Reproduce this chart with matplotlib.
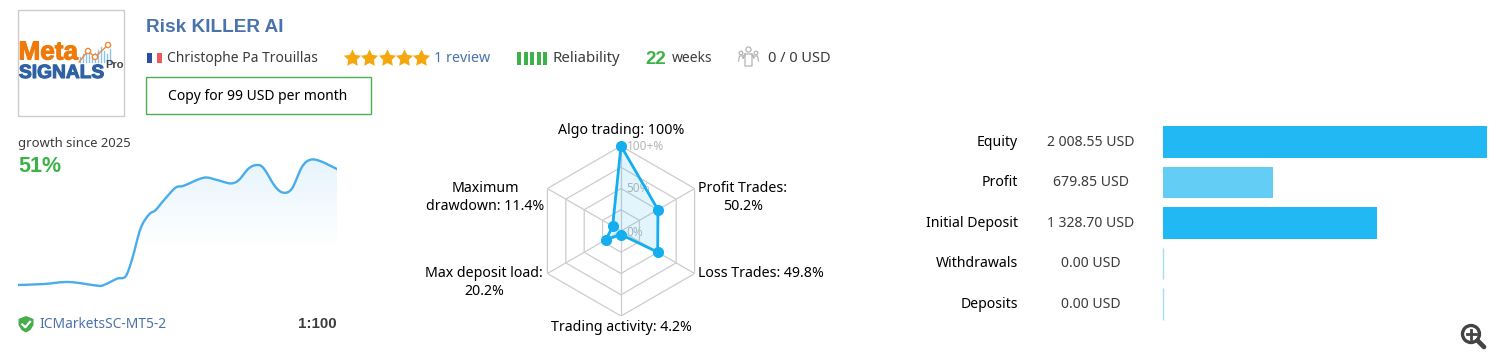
import matplotlib
matplotlib.use('agg')
import matplotlib.patheffects as pe
import matplotlib.pyplot as plt
import numpy as np
from matplotlib.patches import Circle, PathPatch, Polygon, Rectangle
from matplotlib.path import Path

plt.rcParams['font.family'] = ['Noto Sans', 'DejaVu Sans']

W, H = 1500, 362

# growth curve
growth_weeks = [0, 1.79, 3.51, 5.47, 5.92, 6.84, 7.42, 7.88, 8.45, 9.03, 9.48, 10.06, 10.86, 11.44,
                12.81, 13.73, 14.65, 15.23, 15.91, 16.49, 16.95, 17.75, 18.33, 18.9, 19.59, 20.16, 20.85, 22]
growth_pct = [0, 0.44, 1.32, -0.29, 0, 2.79, 3.82, 11.6, 24.8, 31.0, 32.9, 37.3, 42.8, 43.7,
              47.2, 46.2, 44.7, 46.2, 51.3, 52.8, 51.3, 43.2, 40.6, 42.5, 52.0, 55.1, 54.5, 51]

# radar
radar_names = ["Algo trading", "Profit Trades", "Loss Trades", "Trading activity", "Max deposit load", "Maximum drawdown"]
radar_values = [100, 50.2, 49.8, 4.2, 20.2, 11.4]
radar_rings = [25, 50, 75, 100]

# balance bars
bar_names = ["Equity", "Profit", "Initial Deposit", "Withdrawals", "Deposits"]
bar_values = [2008.55, 679.85, 1328.70, 0.00, 0.00]
bar_labels = ["2 008.55 USD", "679.85 USD", "1 328.70 USD", "0.00 USD", "0.00 USD"]
bar_colors = ["#22b8f3", "#63cdf6", "#22b8f3", "#22b8f3", "#22b8f3"]

BLUE = "#4a72ac"
GREEN = "#3db249"
DARK = "#3c3c3c"
GREY = "#b5b5b5"
BOLD = ["Liberation Sans", "DejaVu Sans"]


def axes_px(left, top, right, bottom, **kw):
    # axes placed with pixel coordinates, y going down
    return fig.add_axes([left / W, 1 - bottom / H, (right - left) / W, (bottom - top) / H], **kw)


def txt(x, y, s, size=10, color="black", ha="left", weight="normal", **kw):
    # 1.5 px down: va center sits a little high compared to the reference
    return bg.text(x, y + 1.5, s, fontsize=size, color=color, ha=ha, va="center", fontweight=weight, **kw)


fig = plt.figure(figsize=(W / 100, H / 100), dpi=100, facecolor="white")

# background layer in pixels, for header and icons
bg = fig.add_axes([0, 0, 1, 1])
bg.set_xlim(0, W)
bg.set_ylim(H, 0)
bg.axis("off")

# logo
bg.add_patch(Rectangle((18, 10), 106, 106, fc="white", ec="#cccccc", lw=1))
for bx, bh in zip(range(80, 112, 3), [5, 8, 11, 9, 6, 9, 12, 15, 11, 8, 13]):
    bg.plot([bx, bx], [62, 62 - bh], color="#8fc3ea", lw=1)
bg.plot([79, 88, 95, 108], [62, 51, 57, 45], color="#ee8a3c", lw=1)
for cx, cy in [(88, 51), (95, 57), (108, 45)]:
    bg.add_patch(Circle((cx, cy), 2.6, fc="white", ec="#ee8a3c", lw=1, zorder=3))
heavy_o = [pe.withStroke(linewidth=0.8, foreground="#ee7a0c")]
heavy_b = [pe.withStroke(linewidth=0.8, foreground="#2f62a3")]
txt(18.5, 51, "Meta", size=18.8, color="#ee7a0c", weight="bold", family=BOLD, path_effects=heavy_o)
txt(19, 72, "SIGNALS", size=13.8, color="#2f62a3", weight="bold", family=BOLD, path_effects=heavy_b)
txt(105, 63, "Pro", size=8, color="#444444", weight="bold", family=BOLD)

# header
txt(146, 26, "Risk KILLER AI", size=13.7, color=BLUE, weight="bold", family=BOLD)
bg.add_patch(Rectangle((146.5, 53), 5, 10, fc="#2a4f9e", lw=0))
bg.add_patch(Rectangle((156.5, 53), 5, 10, fc="#ee5a5a", lw=0))
txt(167, 57.5, "Christophe Pa Trouillas", size=10, color=DARK)

# fatter star than the stock marker
star_a = np.pi / 2 + np.arange(10) * np.pi / 5
star_r = np.where(np.arange(10) % 2 == 0, 1.0, 0.5)
star = list(zip(star_r * np.cos(star_a), star_r * np.sin(star_a)))
bg.scatter([352, 369, 387, 404, 421], [58] * 5, marker=star, s=170, color="#f5a80e", lw=0)

txt(434, 57.5, "1 review", size=10.3, color=BLUE)
for bx in [517, 523.5, 530, 536.5, 543]:
    bg.add_patch(Rectangle((bx, 52), 4, 13, fc=GREEN, lw=0))
txt(552, 57.5, "Reliability", size=10.8, color=DARK)
txt(645, 57.5, "22", size=13.5, color=GREEN, weight="bold", family=BOLD)
txt(672, 57.5, "weeks", size=10, color=DARK)

# subscribers icon
for cx, cy, r in [(748.5, 49.5, 2.6), (741, 53, 1.8), (756, 53, 1.8)]:
    bg.add_patch(Circle((cx, cy), r, fc="white", ec="#b5b5b5", lw=0.9))
bg.plot([743, 745, 745, 752, 752, 754, 752, 752, 745, 745, 743], [58, 54, 66, 66, 54, 58, 54, 54, 54, 54, 58],
        color="#b5b5b5", lw=0.9)
bg.plot([738.5, 739.5, 743.5], [61, 56, 56], color="#b5b5b5", lw=0.9)
bg.plot([758.5, 757.5, 753.5], [61, 56, 56], color="#b5b5b5", lw=0.9)
txt(768, 57.5, "0 / 0 USD", size=10.5, color=DARK)

bg.add_patch(Rectangle((145.5, 76.5), 225, 37, fc="white", ec="#4cb050", lw=1))
txt(258, 95, "Copy for 99 USD per month", size=10, ha="center")

# growth block
txt(18, 141.5, "growth since 2025", size=9.4, color=DARK)
txt(18, 165, "51%", size=15.5, color=GREEN, weight="bold", family=BOLD)

lax = axes_px(18, 150, 337, 300)
lax.set_xlim(0, 22)
lax.set_ylim(-6.6, 59.4)
lax.axis("off")
lax.patch.set_alpha(0)

# smooth the read points into bezier segments (catmull-rom)
xs = np.array(growth_weeks)
ys = np.array(growth_pct)
verts = [(xs[0], ys[0])]
codes = [Path.MOVETO]
for i in range(len(xs) - 1):
    a = max(i - 1, 0)
    d = min(i + 2, len(xs) - 1)
    verts.append((xs[i] + (xs[i + 1] - xs[a]) / 6, ys[i] + (ys[i + 1] - ys[a]) / 6))
    verts.append((xs[i + 1] - (xs[d] - xs[i]) / 6, ys[i + 1] - (ys[d] - ys[i]) / 6))
    verts.append((xs[i + 1], ys[i + 1]))
    codes += [Path.CURVE4] * 3
curve = Path(verts, codes)

area = Path(verts + [(xs[-1], -6.6), (xs[0], -6.6), (xs[0], ys[0])],
            codes + [Path.LINETO, Path.LINETO, Path.LINETO])
clip = PathPatch(area, fc="none", lw=0, transform=lax.transData)
lax.add_patch(clip)
grad = np.ones((100, 2, 4))
grad[:, :, 0] = 0.89
grad[:, :, 1] = 0.95
grad[:, :, 2] = 0.99
grad[:, :, 3] = np.clip(np.linspace(1.0, -0.55, 100), 0, 1)[:, None] * 0.95
im = lax.imshow(grad, extent=(0, 22, -6.6, 59.4), origin="upper", aspect="auto", zorder=1)
im.set_clip_path(clip)
lax.add_patch(PathPatch(curve, fc="none", ec="#49aceb", lw=1.7, zorder=2, capstyle="round"))

# account line
shield = [(18.5, 319), (26, 316), (33.5, 319), (33.5, 325), (30.5, 330), (26, 332.5), (21.5, 330), (18.5, 325)]
bg.add_patch(Polygon(shield, closed=True, fc="#46ad4d", lw=0))
bg.plot([22.3, 25.3, 30], [324.5, 327.3, 321.8], color="white", lw=1.6)
txt(39, 323, "ICMarketsSC-MT5-2", size=9.9, color=BLUE)
txt(337, 323, "1:100", size=10.8, color=DARK, ha="right", weight="bold", family=BOLD)

# radar
rax = axes_px(536, 146, 706, 316, projection="polar")
rax.set_theta_zero_location("N")
rax.set_theta_direction(-1)
rax.set_rlim(0, 100)
rax.axis("off")
rax.patch.set_alpha(0)
theta = np.arange(len(radar_values)) * 2 * np.pi / len(radar_values)
closed = np.append(theta, theta[0])
for ring in radar_rings:
    rax.plot(closed, [ring] * len(closed), color="#cccccc", lw=0.9, zorder=1)
for t in theta:
    rax.plot([t, t], [0, 100], color="#cccccc", lw=0.9, zorder=1)
vals = np.append(radar_values, radar_values[0])
rax.fill(closed, vals, color="#22b8f3", alpha=0.13, lw=0, zorder=2)
rax.plot(closed, vals, color="#14aef0", lw=2, zorder=3, clip_on=False)
rax.plot(theta, radar_values, "o", color="#14aef0", ms=8, mew=0, zorder=4, clip_on=False)

txt(627, 145.5, "100+%", size=8.5, color=GREY)
txt(626, 187.5, "50%", size=8.5, color=GREY)
txt(626, 230.5, "0%", size=8.5, color=GREY)

rlabels = [
    (621, 129.5, "Algo trading: 100%"),
    (743, 196, "Profit Trades:\n50.2%"),
    (760.5, 272, "Loss Trades: 49.8%"),
    (621, 326, "Trading activity: 4.2%"),
    (484, 281, "Max deposit load:\n20.2%"),
    (485, 196, "Maximum\ndrawdown: 11.4%"),
]
for x, y, s in rlabels:
    txt(x, y, s, size=10.2, ha="center", linespacing=1.3)

# bars, first bar spans the full axes width
bax = axes_px(1163, 126, 1487, 320)
bax.set_xlim(0, max(bar_values))
bax.set_ylim(4.395, -0.395)
bax.axis("off")
bax.patch.set_alpha(0)
pos = np.arange(len(bar_values))
bax.barh(pos, bar_values, height=0.79, color=bar_colors, lw=0)
for p, v in zip(pos, bar_values):
    if v == 0:
        bax.vlines(v, p - 0.395, p + 0.395, color="#a6dff5", lw=1, clip_on=False)

row_y = [141.5, 181.5, 222, 262, 303]
for y, name, label in zip(row_y, bar_names, bar_labels):
    txt(1018, y, name, size=10.1, ha="right")
    txt(1091, y, label, size=10.1, color=DARK, ha="center")

# zoom icon
bg.add_patch(Circle((1471, 334), 8.5, fc="white", ec="#444444", lw=2.4))
bg.plot([1477.5, 1484], [340.5, 347], color="#444444", lw=3.4, solid_capstyle="round")
bg.plot([1466.5, 1475.5], [334, 334], color="#444444", lw=2)
bg.plot([1471, 1471], [329.5, 338.5], color="#444444", lw=2)

fig.savefig("out.png", dpi=100)
